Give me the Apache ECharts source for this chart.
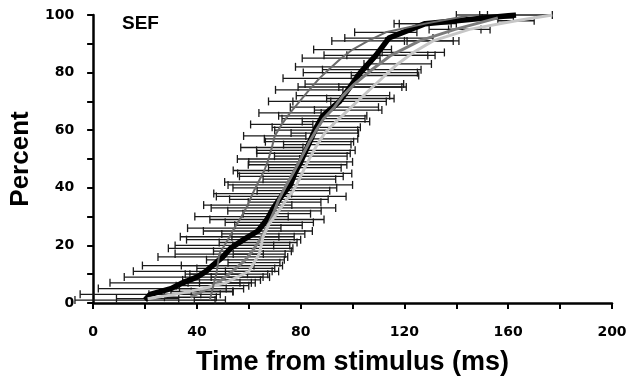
<!DOCTYPE html>
<html>
<head>
<meta charset="utf-8">
<script src="https://cdn.jsdelivr.net/npm/echarts@6/dist/echarts.min.js"></script>
<style>
  html, body { margin: 0; padding: 0; background: #fff; }
  #chart { width: 633px; height: 381px; }
</style>
</head>
<body>
<div id="chart"></div>
<script>
// cumulative latency curves (x = time ms, y = percent), err = half width of error bar
var blackY = [1, 3, 5, 7, 9, 11, 13, 16, 19, 22, 25, 29, 33, 37, 41, 45, 49, 53, 57, 61, 65, 70, 75, 80, 86, 92, 97, 100];
var blackX = [20, 22, 30, 34.5, 40, 43.5, 46, 50, 53, 58, 63.5, 67, 69.5, 72.5, 76, 77.7, 80, 82, 84, 86, 88.5, 95, 99, 103, 109, 114, 128, 163];
var blackErr = [27, 27, 28, 28, 28, 28, 27, 25, 24, 22, 21, 22, 24, 25, 24, 22, 20, 19, 18, 17, 17, 18, 20, 22, 20, 17, 12, 14];

var midY = [2, 4, 6, 8, 10, 12, 15, 18, 21, 24, 28, 32, 36, 40, 44, 48, 52, 56, 60, 64, 68, 72, 76, 81, 86, 91, 95, 99];
var midX = [37.5, 42, 46, 49.5, 52.3, 55, 58.7, 61.4, 63.6, 65.6, 67.9, 69.9, 71.6, 73.9, 76.4, 78.8, 81.1, 83.4, 86, 88.8, 93, 96.3, 100.7, 107.4, 114.8, 125.8, 139.5, 156];
var midErr = [10, 12, 14, 15, 15, 15, 15, 15, 15, 16, 17, 18, 19, 20, 20, 19, 18, 17, 16, 16, 17, 18, 19, 19, 17, 13, 10, 6];

var lightY = [1.5, 3, 5, 7, 9, 11, 14, 17, 20, 23, 27, 31, 35, 39, 43, 47, 51, 55, 59, 63, 67, 71, 75, 79, 83, 87, 91, 95, 98, 100];
var lightX = [21, 31.5, 42.3, 51, 55.5, 60, 62, 64, 64.8, 65.5, 67.6, 70.8, 73.8, 77.2, 79.5, 81.6, 83.9, 86.4, 89.3, 93.6, 98.3, 103, 107.7, 112.5, 117.4, 123.4, 131, 145, 163, 177];
var lightErr = [12, 10, 9, 10, 10, 9, 10, 10, 11, 12, 13, 13, 14, 14, 14, 14, 14, 13, 13, 13, 13, 13, 13, 13, 13, 12, 10, 8, 7, 0];

var darkY = [1, 4, 7, 10, 13, 17, 20, 23, 26, 30, 34, 38, 42, 46, 50, 54, 58, 62, 66, 70, 74, 78, 82, 85, 88, 91, 94, 97, 100];
var darkX = [45, 45.8, 46.6, 47.5, 48, 48.6, 50.6, 52.6, 54.4, 57.2, 59.6, 61.5, 63.7, 66, 67.6, 68.9, 70, 72.7, 75.9, 79.6, 83.3, 87.2, 92, 95.6, 100, 106, 112.8, 128, 146];
var darkErr = [6, 8, 10, 12, 14, 17, 19, 19, 18, 18, 17, 15, 13, 12, 12, 12, 12, 12, 12, 12, 13, 14, 14, 15, 15, 14, 12, 10, 6];

var xTicks = [0, 40, 80, 120, 160, 200];
var yTicks = [0, 20, 40, 60, 80, 100];

function pairs(xs, ys) {
  return xs.map(function (x, i) { return [x, ys[i]]; });
}
function triples(xs, ys, es) {
  return xs.map(function (x, i) { return [x, ys[i], es[i]]; });
}

function renderBar(params, api) {
  var x = api.value(0), y = api.value(1), e = api.value(2);
  if (!e) return null;
  var p1 = api.coord([x - e, y]);
  var p2 = api.coord([x + e, y]);
  var h = 4;
  var st = { stroke: '#1a1a1a', lineWidth: 1.3 };
  return {
    type: 'group',
    children: [
      { type: 'line', shape: { x1: p1[0], y1: p1[1], x2: p2[0], y2: p2[1] }, style: st },
      { type: 'line', shape: { x1: p1[0], y1: p1[1] - h, x2: p1[0], y2: p1[1] + h }, style: st },
      { type: 'line', shape: { x1: p2[0], y1: p2[1] - h, x2: p2[0], y2: p2[1] + h }, style: st }
    ]
  };
}

function barSeries(xs, ys, es) {
  return {
    type: 'custom',
    renderItem: renderBar,
    data: triples(xs, ys, es),
    clip: false,
    silent: true,
    z: 1
  };
}

function lineSeries(xs, ys, color, width, z) {
  return {
    type: 'line',
    data: pairs(xs, ys),
    showSymbol: false,
    symbol: 'none',
    lineStyle: { color: color, width: width },
    silent: true,
    z: z
  };
}

var chart = echarts.init(document.getElementById('chart'));
var titleFont = 'Liberation Sans, Arial, sans-serif';
var tickFont = 'DejaVu Sans, sans-serif';

chart.setOption({
  animation: false,
  backgroundColor: '#fff',
  grid: { left: 90, right: 21, top: 15, bottom: 75 },
  graphic: [
    { type: 'text', left: 122, top: 14, style: { text: 'SEF', font: 'bold 19px ' + titleFont, fill: '#000' } }
  ],
  xAxis: {
    type: 'value', min: 0, max: 200, interval: 20,
    name: 'Time from stimulus (ms)', nameLocation: 'middle', nameGap: 46,
    nameTextStyle: { fontFamily: titleFont, fontWeight: 'bold', fontSize: 27, color: '#000' },
    axisLine: { show: true, lineStyle: { color: '#000', width: 2.5 } },
    axisTick: { show: true, length: 6, lineStyle: { color: '#000', width: 2 } },
    axisLabel: {
      margin: 22, fontFamily: tickFont, fontWeight: 'bold', fontSize: 14, color: '#000',
      formatter: function (v) { return xTicks.indexOf(v) >= 0 ? String(v) : ''; }
    },
    splitLine: { show: false }
  },
  yAxis: {
    type: 'value', min: 0, max: 100, interval: 10,
    name: 'Percent', nameLocation: 'middle', nameGap: 55,
    nameTextStyle: { fontFamily: titleFont, fontWeight: 'bold', fontSize: 26, color: '#000' },
    axisLine: { show: true, lineStyle: { color: '#000', width: 2.5 } },
    axisTick: { show: true, length: 6, lineStyle: { color: '#000', width: 2 } },
    axisLabel: {
      margin: 19, fontFamily: tickFont, fontWeight: 'bold', fontSize: 14, color: '#000',
      formatter: function (v) { return yTicks.indexOf(v) >= 0 ? String(v) : ''; }
    },
    splitLine: { show: false }
  },
  series: [
    barSeries(blackX, blackY, blackErr),
    barSeries(midX, midY, midErr),
    barSeries(lightX, lightY, lightErr),
    barSeries(darkX, darkY, darkErr),
    lineSeries(blackX, blackY, '#000', 5.5, 3),
    lineSeries(midX, midY, '#7c7c7c', 3, 4),
    lineSeries(lightX, lightY, '#c6c6c6', 3, 5),
    lineSeries(darkX, darkY, '#6a6a6a', 2, 6)
  ]
});
</script>
</body>
</html>
